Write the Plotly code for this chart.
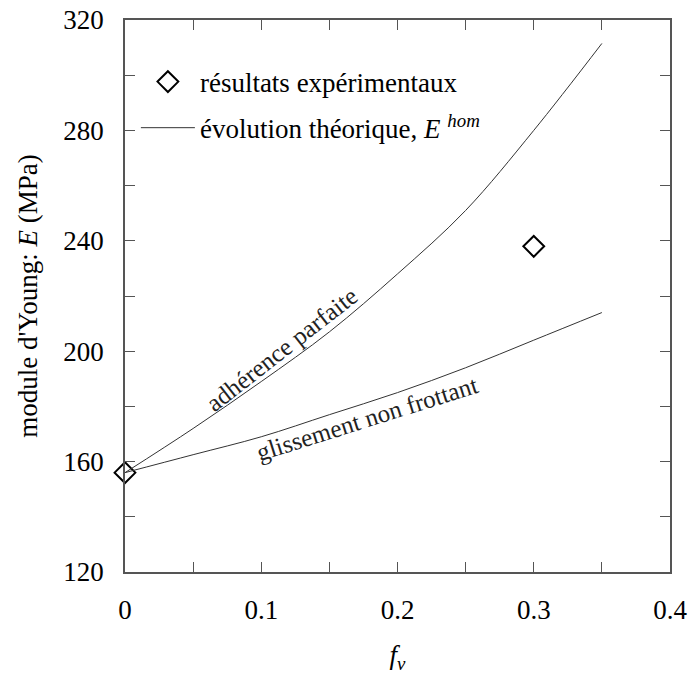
import plotly.graph_objects as go

# theoretical curves
fv_theo = [0.0, 0.05, 0.10, 0.15, 0.20, 0.25, 0.30, 0.35]
E_adherence = [156, 172, 189, 207, 228, 251, 280, 311.5]
E_glissement = [156, 162.5, 169, 177, 185, 194, 204, 214]

# experimental results
fv_exp = [0.0, 0.3]
E_exp = [156, 238]

x_ticks = [0, 0.1, 0.2, 0.3, 0.4]
x_ticktext = ["0", "0.1", "0.2", "0.3", "0.4"]
y_ticks = [120, 160, 200, 240, 280, 320]

FONT = "Liberation Serif, Times New Roman, serif"
LINE_COL = "#333333"
FS = 27

fig = go.Figure()
fig.add_trace(go.Scatter(
    x=fv_exp, y=E_exp, mode="markers",
    name="résultats expérimentaux",
    marker=dict(symbol="diamond-open", size=16, color="black", line=dict(width=2, color="black")),
    cliponaxis=False, legendgroup="exp",
))
fig.add_trace(go.Scatter(
    x=fv_theo, y=E_adherence, mode="lines",
    name="évolution théorique, <i>E</i> <sup><i>hom</i></sup>",
    line=dict(color=LINE_COL, width=1, shape="spline"),
    legendgroup="theo",
))
fig.add_trace(go.Scatter(
    x=fv_theo, y=E_glissement, mode="lines",
    name="glissement", showlegend=False,
    line=dict(color=LINE_COL, width=1, shape="spline"),
    legendgroup="theo",
))

fig.add_annotation(x=0.115, y=200.5, text="adhérence parfaite", textangle=-38,
                   showarrow=False, font=dict(family=FONT, size=25, color="#222"))
fig.add_annotation(x=0.178, y=175.5, text="glissement non frottant", textangle=-17.5,
                   showarrow=False, font=dict(family=FONT, size=25, color="#222"))

axis_common = dict(
    showgrid=False, zeroline=False, showline=True, linecolor="#555", linewidth=1.5,
    mirror="ticks", ticks="inside", ticklen=10, tickcolor="#555", tickwidth=1.2,
    tickfont=dict(family=FONT, size=FS, color="black"),
    ticklabeloverflow="allow",
)
fig.update_xaxes(range=[0, 0.4], tickvals=x_ticks, ticktext=x_ticktext,
                 minor=dict(dtick=0.05, ticks="inside", ticklen=10, tickcolor="#555"),
                 ticklabelstandoff=13,
                 title=dict(text="<i>f</i><sub><i>v</i></sub>", font=dict(family=FONT, size=FS, color="black"), standoff=21),
                 **axis_common)
fig.update_yaxes(range=[120, 320], tickvals=y_ticks,
                 minor=dict(dtick=20, ticks="inside", ticklen=10, tickcolor="#555"),
                 ticklabelstandoff=14,
                 title=dict(text="module d'Young: <i>E</i> (MPa)", font=dict(family=FONT, size=FS, color="black"), standoff=18),
                 **axis_common)

fig.update_layout(
    width=690, height=679,
    margin=dict(l=125, r=20, t=20, b=107, autoexpand=False),
    paper_bgcolor="white", plot_bgcolor="white",
    font=dict(family=FONT, size=FS, color="black"),
    legend=dict(x=0.02, y=0.932, xanchor="left", yanchor="top", bgcolor="rgba(0,0,0,0)",
                font=dict(family=FONT, size=FS, color="black"), itemwidth=54, tracegroupgap=8),
)
fig.write_html("out.html", config={"displayModeBar": False},
               post_script="document.body.style.margin='0';")
